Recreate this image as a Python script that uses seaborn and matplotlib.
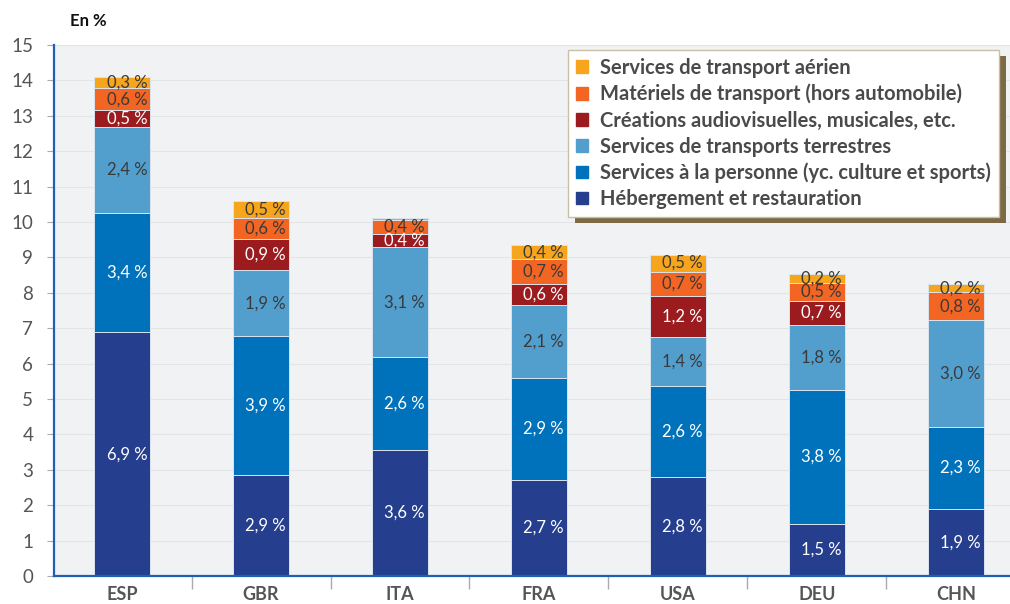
"""Stacked bars: share of tourism-related value added by country (en %)."""
import matplotlib
matplotlib.use("Agg")
import matplotlib.pyplot as plt
import matplotlib.patches as mpatches
import numpy as np
import pandas as pd
import seaborn as sns

pays = ["ESP", "GBR", "ITA", "FRA", "USA", "DEU", "CHN"]

# bottom -> top
hebergement = [6.88, 2.86, 3.57, 2.72, 2.80, 1.48, 1.90]
personne = [3.38, 3.91, 2.62, 2.86, 2.57, 3.78, 2.32]
terrestres = [2.43, 1.87, 3.09, 2.08, 1.37, 1.82, 3.01]
creations = [0.47, 0.87, 0.39, 0.59, 1.16, 0.70, 0.00]
materiels = [0.62, 0.59, 0.38, 0.70, 0.70, 0.51, 0.78]
aerien = [0.31, 0.49, 0.05, 0.39, 0.48, 0.24, 0.23]

series = [
    ("Hébergement et restauration", hebergement, "#253f8e", "white"),
    ("Services à la personne (yc. culture et sports)", personne, "#0072bc", "white"),
    ("Services de transports terrestres", terrestres, "#529fce", "#3a3a3a"),
    ("Créations audiovisuelles, musicales, etc.", creations, "#9b1b1f", "white"),
    ("Matériels de transport (hors automobile)", materiels, "#f26522", "#3a3a3a"),
    ("Services de transport aérien", aerien, "#f7a51c", "#3a3a3a"),
]

BAR_W = 0.4

sns.set_theme(style="white")
plt.rcParams["font.family"] = ["Lato", "DejaVu Sans"]

fig = plt.figure(figsize=(10.1, 6.04), dpi=100)
ax = fig.add_axes([0.0535, 0.0464, 0.9465, 0.8791])
ax.set_facecolor("#f1f2f4")

# cumulative tops, drawn from the top layer down so lower layers overlay
df = pd.DataFrame({"pays": pays})
tops = np.cumsum([s[1] for s in series], axis=0)
for (name, vals, color, _), top in reversed(list(zip(series, tops))):
    df["top"] = top
    sns.barplot(data=df, x="pays", y="top", color=color, saturation=1,
                width=BAR_W, errorbar=None, edgecolor="#dbe4ee",
                linewidth=0.7, ax=ax, zorder=3)

# segment labels, right-aligned inside each bar
bottoms = np.zeros(len(pays))
for name, vals, color, tcolor in series:
    for i, v in enumerate(vals):
        if v >= 0.1:
            txt = f"{v:.1f}".replace(".", ",") + " %"
            ax.text(i + BAR_W / 2 - 0.02, bottoms[i] + v / 2, txt,
                    ha="right", va="center", fontsize=12, color=tcolor,
                    zorder=5)
    bottoms += np.array(vals)

ax.set_ylim(0, 15)
ax.set_xlim(-0.49, 6.39)
ax.set_yticks(range(0, 16))
ax.yaxis.grid(True, color="#e3e4e8", linewidth=0.8, zorder=0)
ax.set_axisbelow(True)
ax.set_xlabel("")
ax.set_ylabel("")

ax.set_xticks(range(len(pays)))
ax.set_xticklabels(pays, fontsize=13, fontweight="bold", color="#555555")
ax.set_xticks(np.arange(0.5, len(pays) - 0.5), minor=True)
ax.tick_params(axis="x", which="major", length=0, pad=7)
ax.tick_params(axis="x", which="minor", length=9, width=1, color="#aaaaaa",
               direction="out", bottom=True)
ax.tick_params(axis="y", length=5, width=0.8, color="#aaaaaa", pad=10,
               labelsize=13.5, labelcolor="#555555", left=True)

for side in ["top", "right"]:
    ax.spines[side].set_visible(False)
for side in ["left", "bottom"]:
    ax.spines[side].set_color("#1f5fb4")
    ax.spines[side].set_linewidth(1.6)
    ax.spines[side].set_zorder(6)

fig.text(0.069, 0.965, "En %", fontsize=12, fontweight="bold",
         color="#111111", va="center")

handles = [mpatches.Patch(color=c, label=n) for n, _, c, _ in reversed(series)]
leg = ax.legend(handles=handles, loc="upper left",
                bbox_to_anchor=(0.5377, 0.991), frameon=True, fancybox=False,
                framealpha=1, edgecolor="#c9bfa6", facecolor="white",
                fontsize=14.5, handlelength=0.6, handleheight=0.6,
                handletextpad=0.6, labelspacing=0.3, borderpad=0.4,
                borderaxespad=0)
leg.set_zorder(10)
for t in leg.get_texts():
    t.set_fontweight("bold")
    t.set_color("#4a4a4a")

# brown drop shadow under the legend box
fig.canvas.draw()
bb = leg.get_window_extent().transformed(fig.transFigure.inverted())
shadow = mpatches.Rectangle((bb.x0 + 0.007, bb.y0 - 0.010), bb.width, bb.height,
                            transform=fig.transFigure, facecolor="#7d6a45",
                            edgecolor="none", zorder=9)
ax.add_artist(shadow)
shadow.set_clip_on(False)

fig.savefig("out.png", dpi=100)
plt.close(fig)
